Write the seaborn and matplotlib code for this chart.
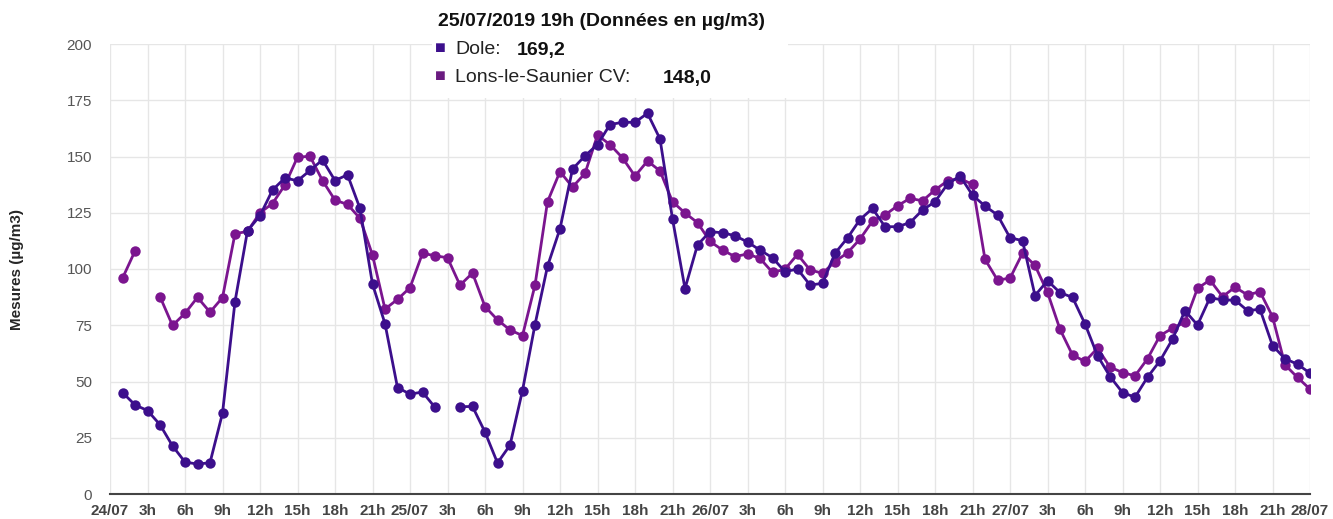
import numpy as np
import pandas as pd
import matplotlib.pyplot as plt
import seaborn as sns

# hourly values, 24/07 1h -> 28/07 0h (96 points), NaN = missing
dole = [45.1, 39.6, 37.1, 30.8, 21.4, 14.2, 13.3, 13.9, 35.9, 85.5, 117.0, 123.7,
        135.1, 140.5, 139.2, 143.8, 148.5, 139.3, 141.9, 126.9, 93.3, 75.7, 47.3, 44.4,
        45.3, 38.5, np.nan, 38.8, 38.9, 27.5, 13.8, 21.7, 46.0, 75.3, 101.2, 117.9,
        144.4, 150.3, 155.3, 164.2, 165.2, 165.2, 169.2, 157.8, 122.3, 91.3, 110.7, 116.6,
        116.1, 114.8, 112.0, 108.4, 105.0, 98.8, 100.0, 92.9, 93.6, 107.0, 113.8, 122.0,
        126.9, 118.8, 118.8, 120.6, 126.2, 129.9, 137.7, 141.4, 132.8, 128.0, 124.0, 113.9,
        112.6, 88.2, 94.8, 89.5, 87.4, 75.6, 61.5, 52.2, 45.1, 43.0, 51.9, 59.2,
        68.8, 81.5, 75.1, 87.3, 86.2, 86.2, 81.5, 82.1, 66.0, 60.1, 57.7, 53.7]
lons = [95.9, 108.0, np.nan, 87.7, 74.9, 80.3, 87.4, 80.8, 87.3, 115.7, 116.7, 125.0,
        129.1, 137.4, 149.7, 150.1, 139.3, 130.6, 128.7, 122.5, 106.2, 82.2, 86.5, 91.7,
        107.0, 105.9, 105.0, 92.8, 98.2, 83.3, 77.4, 72.9, 70.4, 92.8, 129.9, 143.3,
        136.4, 142.5, 159.5, 155.3, 149.4, 141.3, 148.0, 143.6, 129.9, 124.9, 120.6, 112.3,
        108.4, 105.5, 106.7, 104.7, 98.5, 99.9, 106.5, 99.6, 98.1, 103.3, 107.2, 113.3,
        121.3, 124.0, 128.1, 131.4, 130.3, 135.1, 139.2, 140.2, 137.6, 104.3, 95.1, 95.9,
        107.0, 101.6, 89.6, 73.2, 61.8, 58.9, 64.8, 56.4, 54.0, 52.5, 60.1, 70.4,
        73.7, 76.3, 91.4, 95.1, 87.7, 91.9, 88.5, 89.9, 78.8, 57.4, 51.8, 46.6]
hours = list(range(1, 97))
tick_labels = ["24/07", "3h", "6h", "9h", "12h", "15h", "18h", "21h",
               "25/07", "3h", "6h", "9h", "12h", "15h", "18h", "21h",
               "26/07", "3h", "6h", "9h", "12h", "15h", "18h", "21h",
               "27/07", "3h", "6h", "9h", "12h", "15h", "18h", "21h", "28/07"]

c_dole = "#3c0f8c"
c_lons = "#7b158f"

def make_df(vals, name):
    df = pd.DataFrame({"hour": hours, "value": vals, "station": name})
    # split into segments at missing values so the line breaks there
    df["seg"] = df["value"].isna().cumsum()
    return df.dropna()

data = pd.concat([make_df(dole, "Dole"), make_df(lons, "Lons-le-Saunier CV")])

sns.set_style("white")
plt.rcParams["font.family"] = ["Liberation Sans", "DejaVu Sans"]

fig = plt.figure(figsize=(13.33, 5.19), dpi=100)
ax = fig.add_axes([110 / 1333, 25 / 519, 1200 / 1333, 450 / 519])

for name, col in [("Lons-le-Saunier CV", c_lons), ("Dole", c_dole)]:
    sub = data[data["station"] == name]
    sns.lineplot(data=sub, x="hour", y="value", units="seg", estimator=None,
                 color=col, marker="o", markersize=7.5, markeredgewidth=0,
                 linewidth=2, ax=ax, legend=False)

ax.set_xlim(0, 96)
ax.set_ylim(0, 200)
ax.set_xticks(range(0, 97, 3))
ax.set_xticklabels(tick_labels, fontsize=11, color="#444444", fontweight="bold")
ax.set_yticks(range(0, 201, 25))
ax.set_yticklabels([str(v) for v in range(0, 201, 25)], fontsize=11, color="#555555")
ax.tick_params(axis="x", length=0, pad=7)
ax.tick_params(axis="y", length=0, pad=13)
ax.grid(True, color="#e6e6e6", linewidth=1)
ax.set_axisbelow(True)
for s in ["top", "right", "left"]:
    ax.spines[s].set_visible(False)
ax.spines["bottom"].set_color("#444444")
ax.spines["bottom"].set_linewidth(1.5)
ax.set_xlabel("")
ax.set_ylabel("")
fig.text(17 / 1333, 1 - 270 / 519, "Mesures (µg/m3)", rotation=90, fontsize=11,
         fontweight="bold", ha="center", va="center")

# tooltip box
fig.patches.append(plt.Rectangle((432 / 1333, 1 - 98 / 519), 356 / 1333, 98 / 519,
                                 transform=fig.transFigure, facecolor="white",
                                 edgecolor="none", zorder=5))
fig.text(438 / 1333, 1 - 21 / 519, "25/07/2019 19h (Données en µg/m3)", fontsize=14,
         fontweight="bold", va="center", color="#111111", zorder=6)
fig.text(435 / 1333, 1 - 49 / 519, "■", fontsize=13, color=c_dole, va="center", zorder=6)
fig.text(455 / 1333, 1 - 50 / 519, "Dole:", fontsize=14, va="center", color="#222222", zorder=6)
fig.text(517 / 1333, 1 - 50 / 519, "169,2", fontsize=14, fontweight="bold", va="center",
         color="#111111", zorder=6)
fig.text(435 / 1333, 1 - 77 / 519, "■", fontsize=13, color="#6a1b80", va="center", zorder=6)
fig.text(455 / 1333, 1 - 78 / 519, "Lons-le-Saunier CV:", fontsize=14, va="center",
         color="#222222", zorder=6)
fig.text(663 / 1333, 1 - 78 / 519, "148,0", fontsize=14, fontweight="bold", va="center",
         color="#111111", zorder=6)

fig.savefig("out.png", dpi=100)
